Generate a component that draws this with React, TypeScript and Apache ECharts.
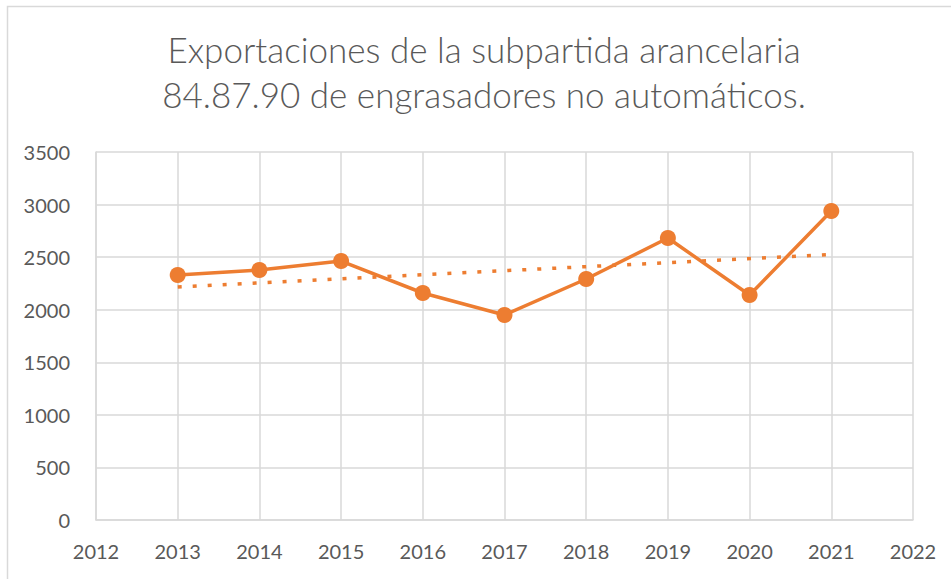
import React, { useEffect, useRef } from "react";
import * as echarts from "echarts";

const titleLines = [
  "Exportaciones de la subpartida arancelaria",
  "84.87.90 de engrasadores no automáticos.",
];
const years = [2013, 2014, 2015, 2016, 2017, 2018, 2019, 2020, 2021];
const exportsValues = [2330, 2378, 2463, 2159, 1950, 2292, 2682, 2140, 2939];
const trendYears = [2013, 2021];
const trendValues = [2217, 2525];
const xRange = [2012, 2022];
const yRange = [0, 3500];

export default function App() {
  const ref = useRef<HTMLDivElement>(null);
  useEffect(() => {
    document.body.style.margin = "0";
    if (!ref.current) return;
    const chart = echarts.init(ref.current, null, { renderer: "svg" });
    const orange = "#ED7D31";
    const gridColor = "#d9d9d9";
    const textColor = "#595959";
    chart.setOption({
      animation: false,
      backgroundColor: "#ffffff",
      graphic: [
        {
          type: "polyline",
          shape: { points: [[7.5, 600], [7.5, 6.5], [960, 6.5]] },
          style: { stroke: gridColor, lineWidth: 1.5, fill: null },
          silent: true,
        },
        {
          type: "text",
          x: 484,
          y: 26,
          style: {
            text: titleLines.join("\n"),
            x: 0,
            y: 0,
            textAlign: "center",
            textVerticalAlign: "top",
            fill: textColor,
            font: '300 35px "Lato", sans-serif',
            lineHeight: 45,
          },
        },
      ],
      grid: { left: 96, right: 38, top: 152, bottom: 59 },
      xAxis: {
        type: "value",
        min: xRange[0],
        max: xRange[1],
        interval: 1,
        axisLine: { show: true, lineStyle: { color: gridColor, width: 1.5 } },
        axisTick: { show: false },
        splitLine: { show: true, lineStyle: { color: gridColor, width: 1.5 } },
        axisLabel: {
          color: textColor,
          fontFamily: "Lato",
          fontSize: 20,
          margin: 21,
          formatter: (v: number) => String(v),
        },
      },
      yAxis: {
        type: "value",
        min: yRange[0],
        max: yRange[1],
        interval: 500,
        axisLine: { show: true, lineStyle: { color: gridColor, width: 1.5 } },
        axisTick: { show: false },
        splitLine: { show: true, lineStyle: { color: gridColor, width: 1.5 } },
        axisLabel: {
          color: textColor,
          fontFamily: "Lato",
          fontSize: 20,
          margin: 26,
          formatter: (v: number) => String(v),
        },
      },
      series: [
        {
          type: "line",
          name: "Tendencia",
          data: trendYears.map((y, i) => [y, trendValues[i]]),
          symbol: "none",
          z: 1,
          lineStyle: { color: orange, width: 3.5, type: [4, 11], cap: "butt" },
        },
        {
          type: "line",
          name: "Exportaciones",
          data: years.map((y, i) => [y, exportsValues[i]]),
          symbol: "circle",
          symbolSize: 16,
          z: 2,
          itemStyle: { color: orange },
          lineStyle: { color: orange, width: 3.5 },
        },
      ],
    });
    return () => chart.dispose();
  }, []);
  return <div ref={ref} style={{ width: 951, height: 579 }} />;
}
